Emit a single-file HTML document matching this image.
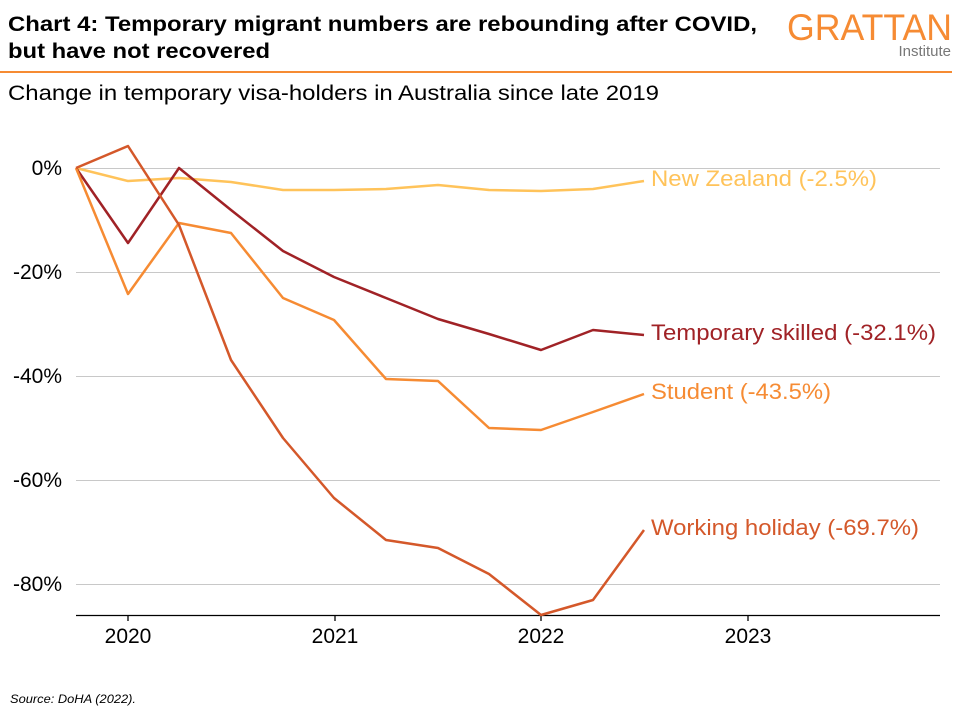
<!DOCTYPE html>
<html><head><meta charset="utf-8"><style>
body{margin:0;width:960px;height:720px;background:#fff;overflow:hidden}
svg text{font-family:"Liberation Sans",Arial,sans-serif}
</style></head><body>
<svg width="960" height="720" viewBox="0 0 960 720">
<text x="8" y="31" font-size="21" font-weight="bold" fill="#000" textLength="749" lengthAdjust="spacingAndGlyphs">Chart 4: Temporary migrant numbers are rebounding after COVID,</text>
<text x="8" y="58" font-size="21" font-weight="bold" fill="#000" textLength="262" lengthAdjust="spacingAndGlyphs">but have not recovered</text>
<text x="787" y="40" font-size="37" fill="#f68b33" textLength="165" lengthAdjust="spacingAndGlyphs" font-family="Liberation Sans Narrow, Liberation Sans">GRATTAN</text>
<text x="951" y="56" font-size="15" fill="#777" text-anchor="end" font-family="Liberation Serif">Institute</text>
<rect x="0" y="71" width="952" height="2" fill="#f68b33"/>
<text x="8" y="100" font-size="21" fill="#000" textLength="651" lengthAdjust="spacingAndGlyphs">Change in temporary visa-holders in Australia since late 2019</text>
<g stroke="#c8c8c8" stroke-width="1">
<line x1="76" x2="940" y1="168.5" y2="168.5"/><line x1="76" x2="940" y1="272.5" y2="272.5"/>
<line x1="76" x2="940" y1="376.5" y2="376.5"/><line x1="76" x2="940" y1="480.5" y2="480.5"/>
<line x1="76" x2="940" y1="584.5" y2="584.5"/>
</g>
<g font-size="21" fill="#000" text-anchor="end">
<text x="62" y="175">0%</text><text x="62" y="279">-20%</text><text x="62" y="383">-40%</text><text x="62" y="487">-60%</text><text x="62" y="591">-80%</text>
</g>
<line x1="76" x2="940" y1="615.5" y2="615.5" stroke="#000" stroke-width="1.3"/>
<g stroke="#000" stroke-width="1.3"><line x1="128" x2="128" y1="615" y2="621"/><line x1="335" x2="335" y1="615" y2="621"/><line x1="541" x2="541" y1="615" y2="621"/><line x1="748" x2="748" y1="615" y2="621"/></g>
<g font-size="21" fill="#000" text-anchor="middle">
<text x="128" y="643">2020</text><text x="335" y="643">2021</text><text x="541" y="643">2022</text><text x="748" y="643">2023</text>
</g>
<g fill="none" stroke-width="2.5" stroke-linejoin="round">
<polyline stroke="#ffc35a" points="76,168 128,181 179,178 231,182 283,190 334,190 386,189 438,185 489,190 541,191 593,189 644,181"/>
<polyline stroke="#a02226" points="76,168 128,243 179,168 231,210 283,251 334,277 386,298 438,319 489,334 541,350 593,330 644,335"/>
<polyline stroke="#f68b33" points="76,168 128,294 179,223 231,233 283,298 334,320 386,379 438,381 489,428 541,430 593,412 644,394"/>
<polyline stroke="#d4582a" points="76,168 128,146 179,225 231,360 283,438 334,498 386,540 438,548 489,574 541,615 593,600 644,530"/>
</g>
<g font-size="22">
<text x="651" y="186" fill="#ffc35a" textLength="226" lengthAdjust="spacingAndGlyphs">New Zealand (-2.5%)</text>
<text x="651" y="340" fill="#a02226" textLength="285" lengthAdjust="spacingAndGlyphs">Temporary skilled (-32.1%)</text>
<text x="651" y="399" fill="#f68b33" textLength="180" lengthAdjust="spacingAndGlyphs">Student (-43.5%)</text>
<text x="651" y="535" fill="#d4582a" textLength="268" lengthAdjust="spacingAndGlyphs">Working holiday (-69.7%)</text>
</g>
<text x="10" y="703" font-size="12" font-style="italic" fill="#000" textLength="126" lengthAdjust="spacingAndGlyphs">Source: DoHA (2022).</text>
</svg>
</body></html>
